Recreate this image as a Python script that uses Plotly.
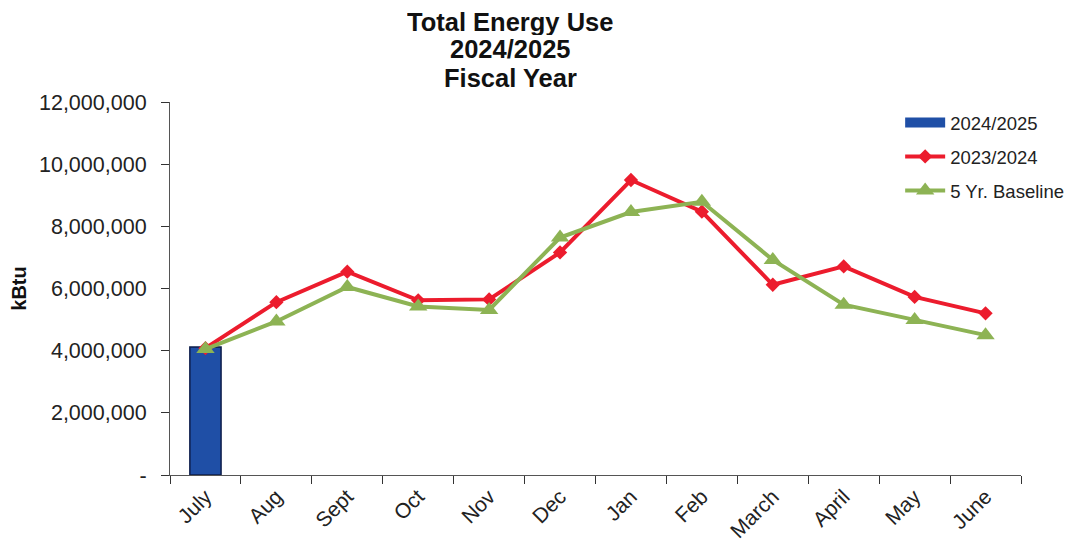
import plotly.graph_objects as go

months = ["July", "Aug", "Sept", "Oct", "Nov", "Dec", "Jan", "Feb", "March", "April", "May", "June"]
fy_2024_2025 = [4120000, None, None, None, None, None, None, None, None, None, None, None]
fy_2023_2024 = [4080000, 5560000, 6540000, 5620000, 5650000, 7160000, 9490000, 8470000, 6120000, 6710000, 5730000, 5200000]
baseline_5yr = [4050000, 4940000, 6050000, 5420000, 5310000, 7640000, 8460000, 8790000, 6920000, 5480000, 4990000, 4500000]
y_tickvals = [0, 2000000, 4000000, 6000000, 8000000, 10000000, 12000000]
y_ticktext = ["-", "2,000,000", "4,000,000", "6,000,000", "8,000,000", "10,000,000", "12,000,000"]
title_lines = ["Total Energy Use", "2024/2025", "Fiscal Year"]

FONT = "Liberation Sans, Arial, sans-serif"
BLUE = "#1f4fa6"
RED = "#ec1c2d"
GREEN = "#8db354"

fig = go.Figure()
fig.add_trace(go.Bar(
    x=months, y=fy_2024_2025, name="2024/2025",
    marker=dict(color=BLUE, line=dict(color="#0d1d4a", width=1.5)),
    width=0.44, showlegend=False,
))
# legend swatch for the bar series (wide rectangle as in the reference)
fig.add_trace(go.Scatter(
    x=[None], y=[None], name="2024/2025", mode="lines",
    line=dict(color=BLUE, width=10), legendgroup="a",
))
fig.add_trace(go.Scatter(
    x=months, y=fy_2023_2024, name="2023/2024", mode="lines+markers",
    line=dict(color=RED, width=4),
    marker=dict(symbol="diamond", size=11, color=RED),
    legendgroup="b",
))
fig.add_trace(go.Scatter(
    x=months, y=baseline_5yr, name="5 Yr. Baseline", mode="lines+markers",
    line=dict(color=GREEN, width=4),
    marker=dict(symbol="triangle-up", size=16, color=GREEN),
    legendgroup="c",
))

title_y = [1.2158, 1.1421, 1.0670]
for txt, yy in zip(title_lines, title_y):
    fig.add_annotation(
        text="<b>" + txt + "</b>", xref="paper", yref="paper",
        x=0.4001, y=yy, xanchor="center", yanchor="middle", showarrow=False,
        height=27, valign="middle",
        font=dict(size=25.5, family=FONT, color="#111111"),
    )

fig.update_layout(
    width=1075, height=548,
    margin=dict(l=162, r=62, t=94, b=81),
    paper_bgcolor="white", plot_bgcolor="white",
    font=dict(family=FONT, color="#222222"),
    showlegend=True,
    legend=dict(
        x=0.858, y=0.995, xanchor="left", yanchor="top",
        font=dict(size=18.5, family=FONT, color="#222222"),
        bgcolor="rgba(0,0,0,0)", tracegroupgap=7, traceorder="grouped",
        itemwidth=40,
    ),
    xaxis=dict(
        type="category", categoryorder="array", categoryarray=months,
        range=[-0.5, 11.5],
        showline=True, linecolor="#555555", linewidth=1.2,
        ticks="outside", ticklen=8, tickcolor="#333333", tickwidth=1.2,
        tickson="boundaries", tickangle=-45,
        tickfont=dict(size=21, family=FONT, color="#222222"),
        showgrid=False, zeroline=False,
    ),
    yaxis=dict(
        range=[0, 12000000],
        tickvals=y_tickvals, ticktext=y_ticktext,
        showline=True, linecolor="#555555", linewidth=1.2,
        ticks="outside", ticklen=8, tickcolor="#333333", tickwidth=1.2,
        ticklabelstandoff=10,
        tickfont=dict(size=21.5, family=FONT, color="#222222"),
        showgrid=False, zeroline=False,
        title=dict(text="<b>kBtu</b>", font=dict(size=20, family=FONT, color="#111111"), standoff=6),
    ),
    xaxis2=dict(
        overlaying="x", range=[-0.5, 11.5], showline=False,
        tickvals=[i - 0.5 for i in range(13)], ticks="inside", ticklen=7,
        tickcolor="#333333", tickwidth=1.2, showticklabels=False, showgrid=False, zeroline=False,
    ),
    yaxis2=dict(
        overlaying="y", range=[0, 12000000], showline=False,
        tickvals=y_tickvals, ticks="inside", ticklen=7,
        tickcolor="#333333", tickwidth=1.2, showticklabels=False, showgrid=False, zeroline=False,
    ),
)

fig.write_html("out.html")
